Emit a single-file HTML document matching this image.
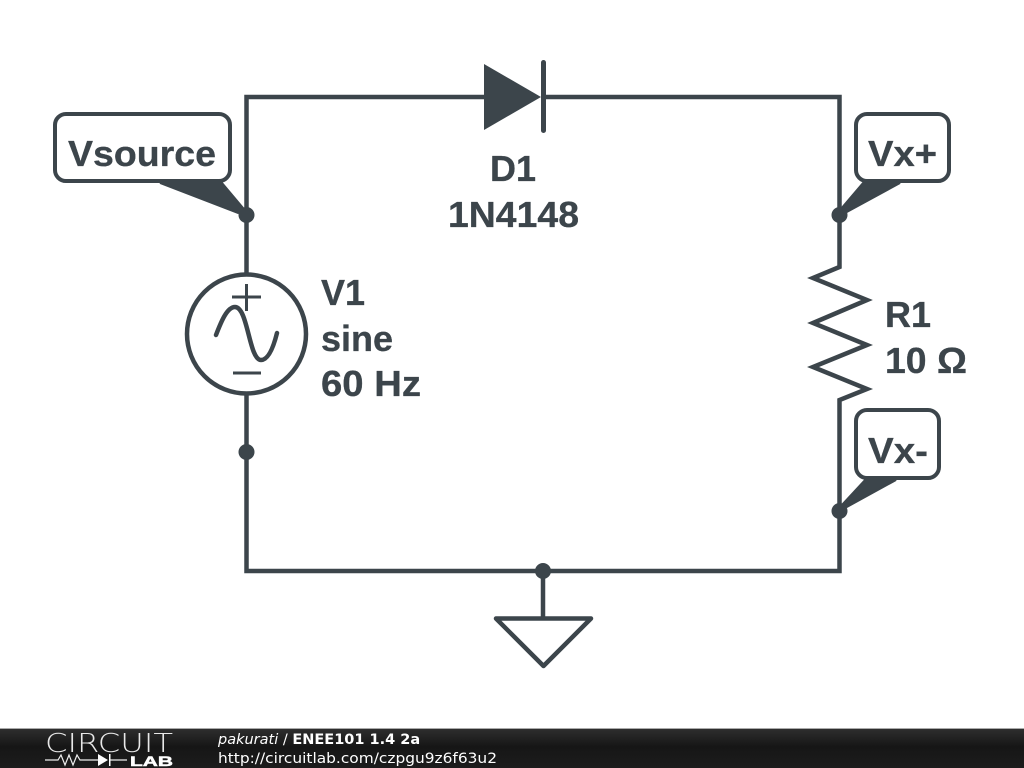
<!DOCTYPE html>
<html><head><meta charset="utf-8"><style>html,body{margin:0;padding:0;background:#fff}svg{display:block}</style></head>
<body><svg xmlns="http://www.w3.org/2000/svg" width="1024" height="768" viewBox="0 0 1024 768">
<defs><linearGradient id="g" x1="0" y1="0" x2="0" y2="1"><stop offset="0" stop-color="#2e2e2e"/><stop offset="0.45" stop-color="#161616"/><stop offset="1" stop-color="#1c1c1c"/></linearGradient></defs>
<rect width="1024" height="768" fill="#fff"/>
<g fill="none" stroke="#3c454b" stroke-width="4.5" stroke-linejoin="miter">
<path d="M246.5 273V97H484M543 97H839.5V267L813 278L867 300L813 323L867 345L813 367L867 389L839.5 400V571H246.5V394"/>
<path d="M543.5 62.5V130.5" stroke-width="5" stroke-linecap="round"/>
<circle cx="246.5" cy="334" r="59.5"/>
<path d="M543 571V618"/>
<path d="M496 618.5H591L543.5 666Z" stroke-width="4.5" stroke-linejoin="round"/>
<path d="M232 297H261M246.5 284V311M233 373H261" stroke-width="3"/>
<path d="M216 335C221 322 227 307 235 307C248 307 249 360 261 360C269 360 274 345 277 333" stroke-width="4.5" stroke-linecap="round"/>
</g>
<g fill="#3c454b">
<path d="M484 64L541 97L484 130Z"/>
<circle cx="246.5" cy="215" r="8"/><circle cx="839.5" cy="215" r="8"/><circle cx="839.5" cy="511" r="8"/><circle cx="246.5" cy="452" r="8"/><circle cx="543" cy="571" r="8"/>
<path d="M155 181L238 213L243 208L220 181Z"/><path d="M864 181L840 210L845 213L904 181Z"/><path d="M866 478L840 507L845 508L900 478Z"/>
</g>
<g fill="#fff" stroke="#3c454b" stroke-width="4">
<rect x="55" y="114" width="175" height="67" rx="11"/>
<rect x="856" y="114" width="93" height="67" rx="11"/>
<rect x="856" y="410" width="83" height="68" rx="11"/>
</g>
<g fill="#3c454b" stroke="#3c454b" stroke-width="2">
<path d="M160 183L238 213L243 208L222 183Z"/><path d="M863 183L840 210L845 213L900 183Z"/><path d="M865 480L840 507L845 508L896 480Z"/>
</g>
<g font-family="'Liberation Sans',sans-serif" font-weight="700" font-size="36" fill="#3c454b" stroke="#3c454b" stroke-width="0.3">
<text x="68" y="166" textLength="148" lengthAdjust="spacingAndGlyphs">Vsource</text>
<text x="868" y="166" textLength="69" lengthAdjust="spacingAndGlyphs">Vx+</text>
<text x="868" y="463" textLength="60" lengthAdjust="spacingAndGlyphs">Vx-</text>
<text x="513" y="181" text-anchor="middle">D1</text>
<text x="448" y="227" textLength="131" lengthAdjust="spacingAndGlyphs">1N4148</text>
<text x="321" y="305">V1</text>
<text x="321" y="351">sine</text>
<text x="321" y="396" textLength="100" lengthAdjust="spacingAndGlyphs">60 Hz</text>
<text x="885" y="327">R1</text>
<text x="885" y="373" textLength="82" lengthAdjust="spacingAndGlyphs">10 Ω</text>
</g>
<rect y="728" width="1024" height="1" fill="#aaa"/>
<rect y="729" width="1024" height="39" fill="url(#g)"/>
<text x="45" y="752" font-family="'DejaVu Sans',sans-serif" font-weight="200" font-size="26" fill="#e8e8e8" textLength="128" lengthAdjust="spacingAndGlyphs">CIRCUIT</text>
<path d="M45 760H58L61 755L65 765L69 755L73 765L77 755L80 760H98M110 760H127" fill="none" stroke="#eee" stroke-width="1.2"/>
<path d="M98 754V766L108 760Z M109 754H110.5V766H109Z" fill="#fff"/>
<text x="130" y="766" font-family="'Liberation Sans',sans-serif" font-weight="700" font-size="14" fill="#fff" stroke="#fff" stroke-width="0.5" textLength="43" lengthAdjust="spacingAndGlyphs">LAB</text>
<g font-family="'DejaVu Sans',sans-serif" font-size="14.5" fill="#fff">
<text x="218" y="744"><tspan font-style="italic">pakurati</tspan> / <tspan font-weight="700">ENEE101 1.4 2a</tspan></text>
<text x="218" y="763" textLength="279" lengthAdjust="spacingAndGlyphs">http://circuitlab.com/czpgu9z6f63u2</text>
</g>
</svg></body></html>
